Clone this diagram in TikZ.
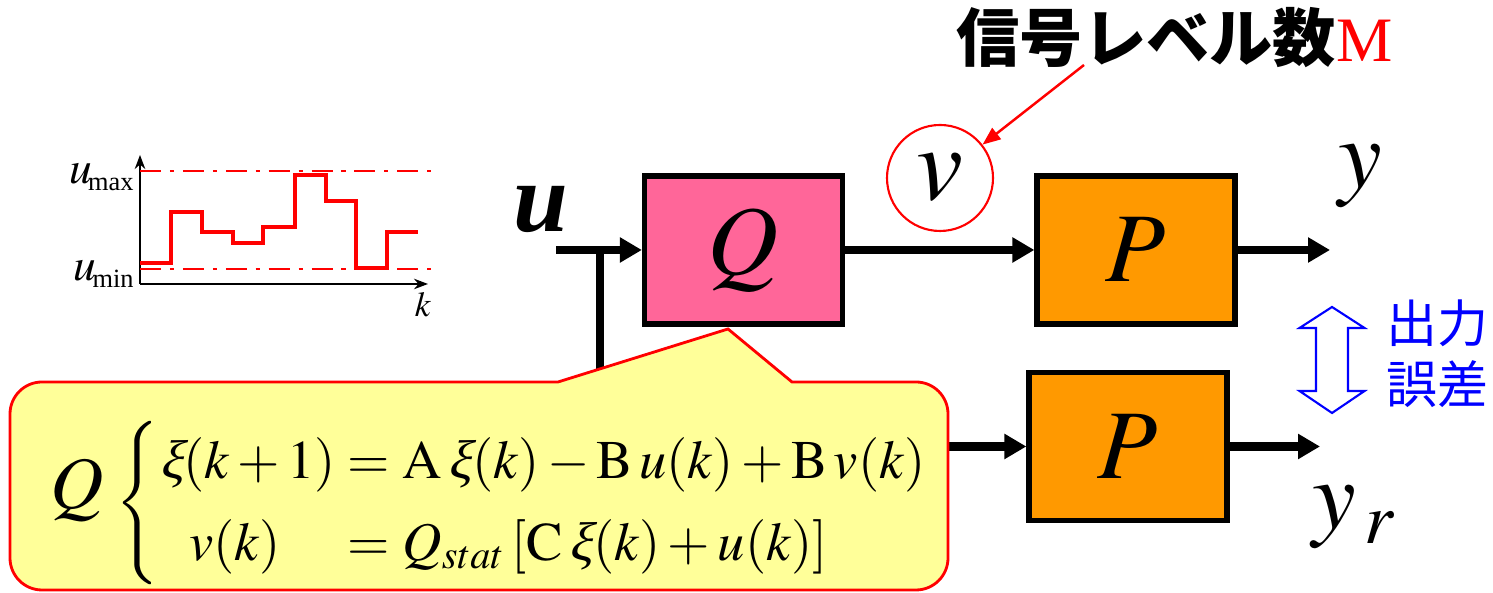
\documentclass[tikz,border=0pt]{standalone}
\usepackage{mathptmx}
\usepackage{fontspec}
\setmainfont{Liberation Serif}
\newfontfamily\jpfont{Noto Sans CJK JP}
\newfontfamily\slantserif[FakeSlant=0.22]{Liberation Serif}
\usetikzlibrary{arrows.meta, positioning, calc}

% slanted xi, as the slide sets it
\newcommand{\xik}{\mbox{\slantserif ξ}}

\begin{document}
\begin{tikzpicture}[
    every node/.style={inner sep=0pt},
]

% ---------------------------------------------------------------- colours
\definecolor{qpink}{HTML}{FF6699}     % the quantizer block
\definecolor{porange}{HTML}{FF9900}   % the plant blocks
\definecolor{noteyellow}{HTML}{FFFF99}% the balloon with the equations
\definecolor{mred}{HTML}{FF0000}      % signal levels, balloon outline
\definecolor{errblue}{HTML}{0000FF}   % the output error

% ---------------------------------------------------------------- styles
\tikzset{
    block/.style={
        rectangle, draw=black, line width=1.5pt,
        minimum width=1.98cm, minimum height=1.48cm,
        font=\fontsize{28}{30}\selectfont,
    },
    sig/.style={
        -{Triangle[length=0.22cm, width=0.24cm]}, line width=2.3pt,
    },
    biglabel/.style={font=\fontsize{28}{30}\selectfont, anchor=base},
    levelline/.style={
        mred, line width=0.7pt,
        dash pattern=on 6pt off 2.5pt on 1.2pt off 2.5pt,
    },
    plotlabel/.style={anchor=east, font=\fontsize{13}{14}\selectfont},
}

% ================================================================
% GEOMETRY
%   page           14.93 x 5.93
%   signal row     y = 3.43  (u -> Q -> P -> y)
%   reference row  y = 1.465 (branch -> P -> y_r)
%   balloon        x = 0.10 .. 9.48, y = 0.03 .. 2.11
% ================================================================
\useasboundingbox (0,0) rectangle (14.93,5.93);

% ---------------------------------------------------------------- the level plot
\draw[-{Stealth[length=4pt]}, line width=0.5pt] (1.40,3.09) -- (1.40,4.38);
\draw[-{Stealth[length=4pt]}, line width=0.5pt] (1.40,3.09) -- (4.28,3.09);
\draw[levelline] (1.40,4.22) -- (4.35,4.22);
\draw[levelline] (1.40,3.24) -- (4.35,3.24);
\draw[mred, line width=1pt]
    (1.40,3.30) -| (1.71,3.81) -| (2.02,3.61) -| (2.33,3.50) -| (2.63,3.66)
    -| (2.95,4.18) -| (3.26,3.92) -| (3.56,3.25) -| (3.87,3.61) -- (4.18,3.61);

\node[plotlabel] (umax) at (1.36,4.16)
    {$u_{\!\mbox{\fontsize{7.5}{8}\selectfont max}}$};
\node[plotlabel] (umin) at (1.36,3.19)
    {$u_{\!\mbox{\fontsize{7.5}{8}\selectfont min}}$};
\node[font=\fontsize{10}{11}\selectfont] (kax) at (4.23,2.88) {$k$};

% ---------------------------------------------------------------- the blocks
\node[block, fill=qpink] (Q) at (7.435,3.43) {$Q$};
\node[block, fill=porange] (P) at (11.36,3.43) {$P$};
\node[block, fill=porange] (Pr) at (11.28,1.465) {$P$};

\coordinate (uin) at (5.56,3.43);
\coordinate (branch) at (6.00,3.43);
\coordinate (yout) at (13.30,3.43);
\coordinate (yrout) at (13.20,1.465);

\node[biglabel] (ulab) at (5.41,3.61) {\textbf{\textit{u}}};
\node[biglabel] (ylab) at (13.60,4.05) {$y$};
\node[biglabel] (yrlab) at (13.54,0.64) {$y_{\,r}$};

% ---------------------------------------------------------------- signals
\draw[sig] (uin) -- (Q);
\draw[sig] (Q) -- (P);
\draw[sig] (P) -- (yout);
% the branch runs under the balloon
\draw[sig] (branch) |- (Pr);
\draw[sig] (Pr) -- (yrout);

% ---------------------------------------------------------------- v and its levels
\node[circle, draw=mred, line width=0.6pt, minimum size=1.06cm,
      font=\fontsize{30}{32}\selectfont] (vc) at (9.40,4.15) {$v$};

\node[anchor=base east, font=\fontsize{18}{20}\selectfont] (levels)
    at (13.93,5.31) {{\jpfont\bfseries 信号レベル数}\textcolor{mred}{M}};
\coordinate (lvtail) at (10.84,5.28);
\draw[mred, line width=0.7pt, -{Triangle[length=0.18cm, width=0.14cm]}]
    (lvtail) -- (vc);

% ---------------------------------------------------------------- output error
\draw[errblue, line width=0.6pt, fill=white]
    (13.32,2.86) -- (13.645,2.65) -- (13.48,2.65) -- (13.48,2.02)
    -- (13.645,2.02) -- (13.32,1.80) -- (12.995,2.02) -- (13.16,2.02)
    -- (13.16,2.65) -- (12.995,2.65) -- cycle;
\node[font={\fontsize{14.5}{17.3}\selectfont\jpfont}, text=errblue,
      align=left] (err) at (14.37,2.39) {出力\\誤差};

% ---------------------------------------------------------------- the balloon
% a corner is rounded by the setting of the segment that runs into it
\draw[mred, line width=0.8pt, fill=noteyellow, rounded corners=0.32cm]
    (0.10,1.00) -- (0.10,2.11)
    [sharp corners] -- (5.58,2.11) -- (7.28,2.64) -- (7.92,2.11)
    [rounded corners=0.32cm] -- (9.48,2.11) -- (9.48,0.03) -- (0.10,0.03)
    -- cycle;

\node[font=\fontsize{21}{24}\selectfont] (qname) at (0.77,1.03) {$Q$};
\node[anchor=west, font=\fontsize{15.5}{23.5}\selectfont] (qeq) at (1.15,0.90)
    {$\left\{\begin{array}{@{}l@{\;}l@{}}
        \xik(k+1) & = \mathrm{A}\,\xik(k) - \mathrm{B}\,u(k) + \mathrm{B}\,v(k) \\
        \hspace{0.3cm}v(k) & = Q_{stat}\,[\mathrm{C}\,\xik(k) + u(k)]
    \end{array}\right.$};

\end{tikzpicture}
\end{document}
